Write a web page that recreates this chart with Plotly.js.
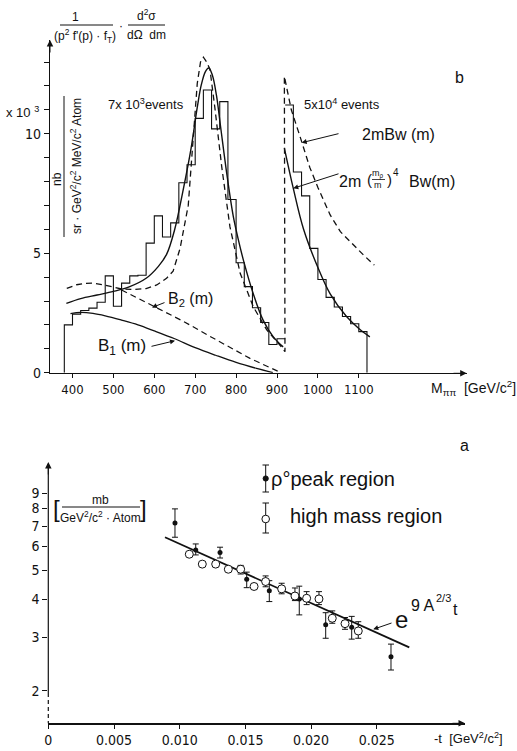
<!DOCTYPE html>
<html>
<head>
<meta charset="utf-8">
<script src="https://cdn.plot.ly/plotly-3.0.1.min.js"></script>
<style>html,body{margin:0;padding:0;background:#fff}#plot{width:517px;height:751px}</style>
</head>
<body>
<div id="plot"></div>
<script>
// ---------- DATA: panel b (M_pipi spectrum) ----------
const histEdges1 = [380,400,420,440,460,480,500,520,540,560,580,600,620,640,660,680,700,720,740,760,780,800,820,840,860,880,900,920];
const histVals1  = [2.0,2.45,2.6,2.7,2.95,4.05,2.78,3.75,4.05,4.08,5.42,6.56,5.68,6.27,7.95,8.7,10.64,11.83,10.2,11.34,7.25,4.6,3.6,2.72,2.1,1.18,1.42];
const histEdges2 = [920,940,960,980,1000,1020,1040,1060,1080,1100,1120];
const histVals2  = [11.2,8.4,7.4,5.2,3.9,3.15,2.75,2.35,2.05,1.72];

const solidM1 = [385,420,460,500,540,580,610,630,650,670,690,705,715,725,733,742,752,762,777,793,805,818,842,866,891,915];
const solidV1 = [2.9,3.1,3.25,3.4,3.6,3.95,4.45,4.95,6.0,7.6,9.4,11.1,12.05,12.6,12.75,12.45,11.6,10.3,8.35,6.55,5.6,4.7,3.3,2.2,1.5,1.08];
const solidM2 = [918,940,965,1000,1030,1070,1100,1127];
const solidV2 = [9.4,7.7,6.0,4.4,3.3,2.35,1.85,1.5];

const dashM1 = [386,410,430,450,475,500,520,550,580,606,630,646,663,683,695,705,713,720,728,736,748,765,785,810,842,875,907,919.5];
const dashV1 = [3.53,3.68,3.74,3.75,3.68,3.58,3.5,3.48,3.52,3.67,3.95,4.25,5.2,7.0,9.7,12.1,13.0,13.2,13.0,12.7,11.1,8.6,6.1,4.16,2.76,1.79,1.16,0.88];
const dashM2 = [918,935,956,980,1000,1030,1055,1080,1110,1138];
const dashV2 = [12.4,11.0,9.9,8.6,7.75,6.6,5.9,5.45,4.95,4.5];

const b1M = [395,420,450,480,520,560,600,650,700,750,800,850,890];
const b1V = [2.47,2.52,2.48,2.38,2.2,2.0,1.75,1.42,1.05,0.73,0.43,0.18,0.0];
const b2M = [520,589,671,752,834,910];
const b2V = [3.46,2.85,2.15,1.37,0.6,0.0];

const topXTicks = [400,500,600,700,800,900,1000,1100];
const topYTickVals = [0,1,2,3,4,5,6,7,8,9,10,11,12,13];
const topYTickText = ['0','','','','','5','','','','','10','','',''];

// ---------- DATA: panel a (-t dependence) ----------
const peakT  = [0.00964,0.01122,0.01307,0.0151,0.01682,0.0191,0.02111,0.02309,0.02608];
const peakV  = [7.16,5.84,5.73,4.67,4.28,4.02,3.30,3.24,2.59];
const peakHi = [7.98,6.11,5.96,4.93,4.62,4.43,3.62,3.52,2.85];
const peakLo = [6.43,5.62,5.49,4.38,3.94,3.56,2.98,2.96,2.34];

const highT  = [0.01073,0.01172,0.01274,0.0137,0.01464,0.01566,0.01654,0.01776,0.01877,0.01966,0.0206,0.02161,0.02258,0.02359];
const highV  = [5.65,5.24,5.24,5.04,5.04,4.42,4.59,4.34,4.11,4.04,4.02,3.47,3.33,3.15];
const highHi = [5.65,5.24,5.34,5.04,5.19,4.5,4.79,4.53,4.37,4.25,4.25,3.67,3.49,3.38];
const highLo = [5.65,5.24,5.14,5.04,4.86,4.35,4.41,4.18,3.97,3.85,3.85,3.34,3.19,2.98];

const fitT = [0.00888,0.02747];
const fitV = [6.43,2.78];

const botXTicks = [0,0.005,0.010,0.015,0.020,0.025];
const botXText  = ['0','0.005','0.010','0.015','0.020','0.025'];
const botYTicks = [2,3,4,5,6,7,8,9];

// ---------- helpers ----------
const W = 517, H = 751;
const INK = '#111';
const NARROW = '"Liberation Sans Narrow","DejaVu Sans Condensed","Arial Narrow","Liberation Sans",sans-serif';
const SANS = '"Liberation Sans",Arial,sans-serif';
const fx = p => p / W, fy = p => 1 - p / H;

function T(text, px, py, size, extra) {
  return Object.assign({text: text, x: fx(px), y: fy(py), xref: 'paper', yref: 'paper', showarrow: false,
    xanchor: 'center', yanchor: 'middle', font: {family: SANS, size: size, color: INK}}, extra || {});
}
function A(tx, ty, hx, hy, head, size) {
  return {text: '', x: fx(hx), y: fy(hy), xref: 'paper', yref: 'paper', showarrow: true,
    ax: tx - hx, ay: ty - hy, axref: 'pixel', ayref: 'pixel',
    arrowhead: head || 2, arrowsize: size || 1, arrowwidth: 1, arrowcolor: INK};
}
function L(x0, y0, x1, y1, dash, w) {
  return {type: 'line', xref: 'paper', yref: 'paper', x0: fx(x0), y0: fy(y0), x1: fx(x1), y1: fy(y1),
    line: {color: INK, width: w || 1, dash: dash || 'solid'}};
}
function C(cx, cy, r, fill) {
  return {type: 'circle', xref: 'paper', yref: 'paper', x0: fx(cx - r), x1: fx(cx + r), y0: fy(cy + r), y1: fy(cy - r),
    fillcolor: fill, line: {color: INK, width: 1}};
}

// step histogram building
const h1x = [histEdges1[0]].concat(histEdges1);
const h1y = [0].concat(histVals1, [histVals1[histVals1.length - 1]]);
const h2x = histEdges2.concat([histEdges2[histEdges2.length - 1]]);
const h2y = histVals2.concat([histVals2[histVals2.length - 1], 0]);

const traces = [
  {x: h1x, y: h1y, type: 'scatter', mode: 'lines', line: {shape: 'hv', color: INK, width: 1.1}, xaxis: 'x', yaxis: 'y'},
  {x: h2x, y: h2y, type: 'scatter', mode: 'lines', line: {shape: 'hv', color: INK, width: 1.1}, xaxis: 'x', yaxis: 'y'},
  {x: solidM1, y: solidV1, type: 'scatter', mode: 'lines', line: {shape: 'spline', color: INK, width: 1.4}, xaxis: 'x', yaxis: 'y'},
  {x: solidM2, y: solidV2, type: 'scatter', mode: 'lines', line: {shape: 'spline', color: INK, width: 1.4}, xaxis: 'x', yaxis: 'y'},
  {x: dashM1.concat(dashM2), y: dashV1.concat(dashV2), type: 'scatter', mode: 'lines', line: {color: INK, width: 1.3, dash: '6px,4px'}, xaxis: 'x', yaxis: 'y'},
  {x: b1M, y: b1V, type: 'scatter', mode: 'lines', line: {shape: 'spline', color: INK, width: 1.3}, xaxis: 'x', yaxis: 'y'},
  {x: b2M, y: b2V, type: 'scatter', mode: 'lines', line: {color: INK, width: 1.2, dash: '6px,4px'}, xaxis: 'x', yaxis: 'y'},
  {x: fitT, y: fitV, type: 'scatter', mode: 'lines', line: {color: INK, width: 1.8}, xaxis: 'x2', yaxis: 'y2'},
  {x: peakT, y: peakV, type: 'scatter', mode: 'markers', marker: {symbol: 'circle', size: 5, color: INK},
    error_y: {type: 'data', symmetric: false, array: peakHi.map((h, i) => h - peakV[i]), arrayminus: peakV.map((v, i) => v - peakLo[i]), color: INK, thickness: 1, width: 3},
    xaxis: 'x2', yaxis: 'y2'},
  {x: highT, y: highV, type: 'scatter', mode: 'markers', marker: {symbol: 'circle', size: 8, color: '#fff', line: {color: INK, width: 1}},
    error_y: {type: 'data', symmetric: false, array: highHi.map((h, i) => h - highV[i]), arrayminus: highV.map((v, i) => v - highLo[i]), color: INK, thickness: 1, width: 3},
    xaxis: 'x2', yaxis: 'y2'}
];

// axis calibration (pixels)
const mAt = p => 400 + (p - 72.5) / 0.409;
const tAt = p => (p - 48.3) / 13140;

const axBase = {showgrid: false, zeroline: false, showline: true, linecolor: INK, linewidth: 1.2,
  ticks: 'outside', ticklen: 4, tickcolor: INK, tickwidth: 1};

const layout = {
  width: W, height: H, margin: {l: 0, r: 0, t: 0, b: 0}, showlegend: false,
  paper_bgcolor: '#fff', plot_bgcolor: 'rgba(0,0,0,0)',
  xaxis: Object.assign({}, axBase, {domain: [fx(50), fx(466.7)], range: [mAt(50), mAt(466.7)], anchor: 'y',
    tickvals: topXTicks, tickfont: {family: NARROW, size: 13, color: INK}}),
  yaxis: Object.assign({}, axBase, {domain: [fy(372.7), fy(40)], range: [0, (372.7 - 40) / 23.9], anchor: 'x',
    tickvals: topYTickVals, ticktext: topYTickText, ticklen: 5, tickfont: {family: NARROW, size: 14, color: INK}}),
  xaxis2: Object.assign({}, axBase, {domain: [fx(48.3), fx(465)], range: [0, tAt(465)], anchor: 'y2',
    tickvals: botXTicks, ticktext: botXText, tickfont: {family: NARROW, size: 14, color: INK}}),
  yaxis2: Object.assign({}, axBase, {type: 'log', domain: [fy(723.3), fy(461.7)], range: [0.193, 1.058], anchor: 'x2',
    showline: false, tickvals: botYTicks, ticktext: botYTicks.map(String), ticklen: 5, tickfont: {family: NARROW, size: 14, color: INK}}),
  shapes: [
    L(48.3, 464, 48.3, 693, 'solid', 1.2),
    L(48.3, 693, 48.3, 723.3, '4px,3px', 1.2),
    L(60, 25, 113, 25), L(128, 25, 165, 25),
    L(64, 96, 64, 237),
    L(62, 507, 140, 507),
    L(372, 179.5, 385, 179.5, 'solid', 0.8),
    L(265.7, 465, 265.7, 492), L(262.5, 465, 269, 465), L(262.5, 492, 269, 492),
    L(265.7, 503, 265.7, 533), L(262.5, 503, 269, 503), L(262.5, 533, 269, 533),
    C(265.7, 478.5, 2.6, INK), C(265.7, 519, 3.8, '#fff')
  ],
  annotations: [
    A(452, 373.3, 466.7, 373.3, 2, 1.3), A(50, 54, 50, 40, 2, 1.3),
    A(451, 723.3, 465, 723.3, 2, 1.3), A(48.3, 476, 48.3, 462, 2, 1.3),
    T('1', 75, 17, 12),
    T("(p<sup>2</sup> f'(p) · f<sub>T</sub>)", 85, 36, 12),
    T('·', 121, 26, 12),
    T('d<sup>2</sup>σ', 146, 15, 12),
    T('dΩ  dm', 146, 35, 12),
    T('x 10 <sup>3</sup>', 22, 112, 13),
    T('sr · GeV<sup>2</sup>/c<sup>2</sup> MeV/c<sup>2</sup> Atom', 76, 166, 12, {textangle: -90}),
    T('nb', 57, 179, 12, {textangle: -90}),
    T('7x 10<sup>3</sup>events', 146, 104, 13),
    T('5x10<sup>4</sup> events', 342, 104, 13),
    T('b', 459, 77, 16),
    T('2mBw (m)', 398, 134, 16),
    A(340, 133.3, 301.7, 142.7, 2, 1),
    T('2m', 350, 181, 16),
    T('(', 369, 180, 15), T(')', 389, 180, 15),
    T('m<sub>ρ</sub>', 378, 174, 9), T('m', 378, 185, 9),
    T('4', 396, 173, 10),
    T('Bw(m)', 432, 181, 16),
    A(340, 173.3, 293.3, 188.3, 2, 1),
    T('B<sub>2</sub> (m)', 190, 300, 16),
    A(166, 302, 152, 307.5, 2, 1),
    T('B<sub>1</sub> (m)', 122, 347, 17),
    A(150, 346.7, 175, 340.7, 2, 1),
    T('M<sub>ππ</sub>  [GeV/c<sup>2</sup>]', 473, 388, 14),
    T('a', 464, 446, 16),
    T('ρ°peak region', 333, 479, 20),
    T('high mass region', 366, 516, 20),
    T('[', 56, 508, 24), T(']', 143, 508, 24),
    T('mb', 100, 500, 12),
    T('GeV<sup>2</sup>/c<sup>2</sup> · Atom', 100, 517, 12),
    T('e', 401, 619, 24),
    T('9 A', 422, 605, 16),
    T('2/3', 443, 598, 11),
    T('t', 455, 609, 16),
    A(393, 622.5, 373.3, 629.3, 2, 1),
    T('-t  [GeV<sup>2</sup>/c<sup>2</sup>]', 468, 738, 13)
  ]
};

Plotly.newPlot('plot', traces, layout, {staticPlot: true, displayModeBar: false});
</script>
</body>
</html>
